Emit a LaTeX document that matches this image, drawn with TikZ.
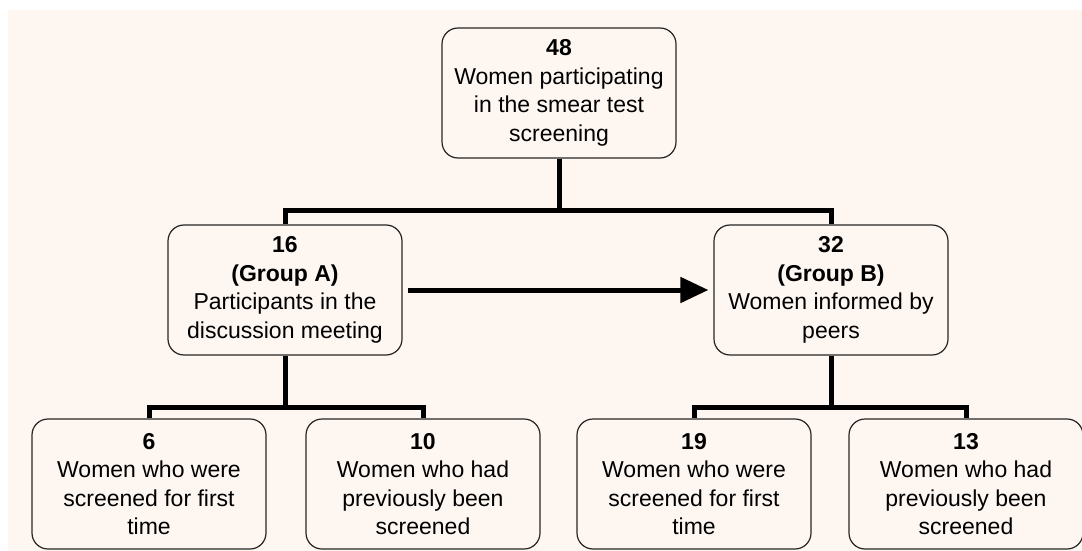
\documentclass[tikz,border=0pt]{standalone}
\usepackage{fontspec}
\setmainfont{Liberation Sans}
\usetikzlibrary{arrows.meta}

\definecolor{paper}{RGB}{253,246,241}

\tikzset{
  box/.style={draw=black!85, line width=1.2pt, rounded corners=16pt, fill=paper,
    minimum width=234pt, minimum height=130pt, inner sep=0pt, align=center,
    font=\fontsize{23}{28.5}\selectfont},
  link/.style={line width=5pt},
}

\begin{document}
\begin{tikzpicture}[x=1pt,y=-1pt]

      \useasboundingbox (0,0) rectangle (1082,551);
      \fill[white] (0,0) rectangle (1082,551);
      \fill[paper] (8,10) rectangle (1082,551); % page background

      \node[box] (top) at (559,93) {\textbf{48}\\Women participating\\in the smear test\\screening};

      \node[box] (grpA) at (285,290) {\textbf{16}\\\textbf{(Group A)}\\Participants in the\\discussion meeting};
      \node[box] (grpB) at (831,290) {\textbf{32}\\\textbf{(Group B)}\\Women informed by\\peers};

      \node[box] (firstA) at (149,484) {\textbf{6}\\Women who were\\screened for first\\time};
      \node[box] (prevA) at (423,484) {\textbf{10}\\Women who had\\previously been\\screened};
      \node[box] (firstB) at (694,484) {\textbf{19}\\Women who were\\screened for first\\time};
      \node[box] (prevB) at (966,484) {\textbf{13}\\Women who had\\previously been\\screened};

      \draw[link] (top.south) -- ++(0,52) -| (grpA.north);
      \draw[link] (top.south) -- ++(0,52) -| (grpB.north);

      \foreach \p/\c in {grpA/firstA,grpA/prevA,grpB/firstB,grpB/prevB}
      \draw[link] (\p.south) -- ++(0,52) -| (\c.north);

      \draw[link,-{Triangle[length=28pt,width=25pt]},shorten <=5pt,shorten >=5pt] (grpA.east) -- (grpB.west);

\end{tikzpicture}
\end{document}
